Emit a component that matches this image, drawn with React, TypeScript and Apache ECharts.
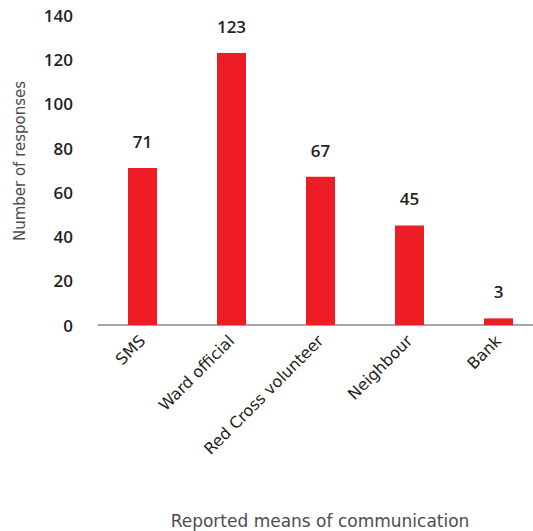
import React, { useEffect, useRef } from "react";
import * as echarts from "echarts";

const categories = ["SMS", "Ward official", "Red Cross volunteer", "Neighbour", "Bank"];
const responses = [71, 123, 67, 45, 3];
const yTicks = { min: 0, max: 140, interval: 20 };
const yTitle = "Number of responses";
const xTitle = "Reported means of communication";

const FONT = "'DejaVu Sans', 'Open Sans', sans-serif";
const NUM_FONT = "'Open Sans', 'DejaVu Sans', sans-serif";

export default function App() {
  const ref = useRef<HTMLDivElement>(null);
  useEffect(() => {
    document.body.style.margin = "0";
    const chart = echarts.init(ref.current!, null, { renderer: "svg" });
    chart.setOption({
      animation: false,
      backgroundColor: "#ffffff",
      grid: { left: 98, width: 445, top: 15.4, height: 309.6, containLabel: false },
      xAxis: {
        type: "category",
        data: categories,
        boundaryGap: true,
        axisLine: { lineStyle: { color: "#8a8a8a", width: 1.5 } },
        axisTick: { show: false },
        axisLabel: {
          interval: 0,
          rotate: 45,
          margin: 13,
          color: "#231f20",
          fontSize: 16,
          fontFamily: FONT,
        },
      },
      yAxis: {
        type: "value",
        min: yTicks.min,
        max: yTicks.max,
        interval: yTicks.interval,
        axisLine: { show: false },
        axisTick: { show: false },
        splitLine: { show: false },
        axisLabel: {
          color: "#231f20",
          fontSize: 17,
          fontWeight: 600,
          fontFamily: NUM_FONT,
          margin: 25,
        },
      },
      series: [
        {
          type: "bar",
          data: responses,
          barWidth: 29,
          itemStyle: { color: "#ee1d25" },
          label: {
            show: true,
            position: "top",
            distance: 18,
            color: "#231f20",
            fontSize: 17,
            fontWeight: 600,
            fontFamily: NUM_FONT,
          },
        },
      ],
      graphic: [
        {
          type: "text",
          x: 20,
          y: 161,
          rotation: Math.PI / 2,
          style: {
            text: yTitle,
            align: "center",
            verticalAlign: "middle",
            fill: "#4d4d4f",
            fontSize: 15,
            fontFamily: FONT,
          },
        },
        {
          type: "text",
          x: 320,
          y: 521,
          style: {
            text: xTitle,
            align: "center",
            verticalAlign: "middle",
            fill: "#4d4d4f",
            fontSize: 17,
            fontFamily: FONT,
          },
        },
      ],
    });
    return () => chart.dispose();
  }, []);
  return (
    <div style={{ width: 533, height: 531, overflow: "hidden", position: "relative" }}>
      <div ref={ref} style={{ width: 560, height: 531 }} />
    </div>
  );
}
